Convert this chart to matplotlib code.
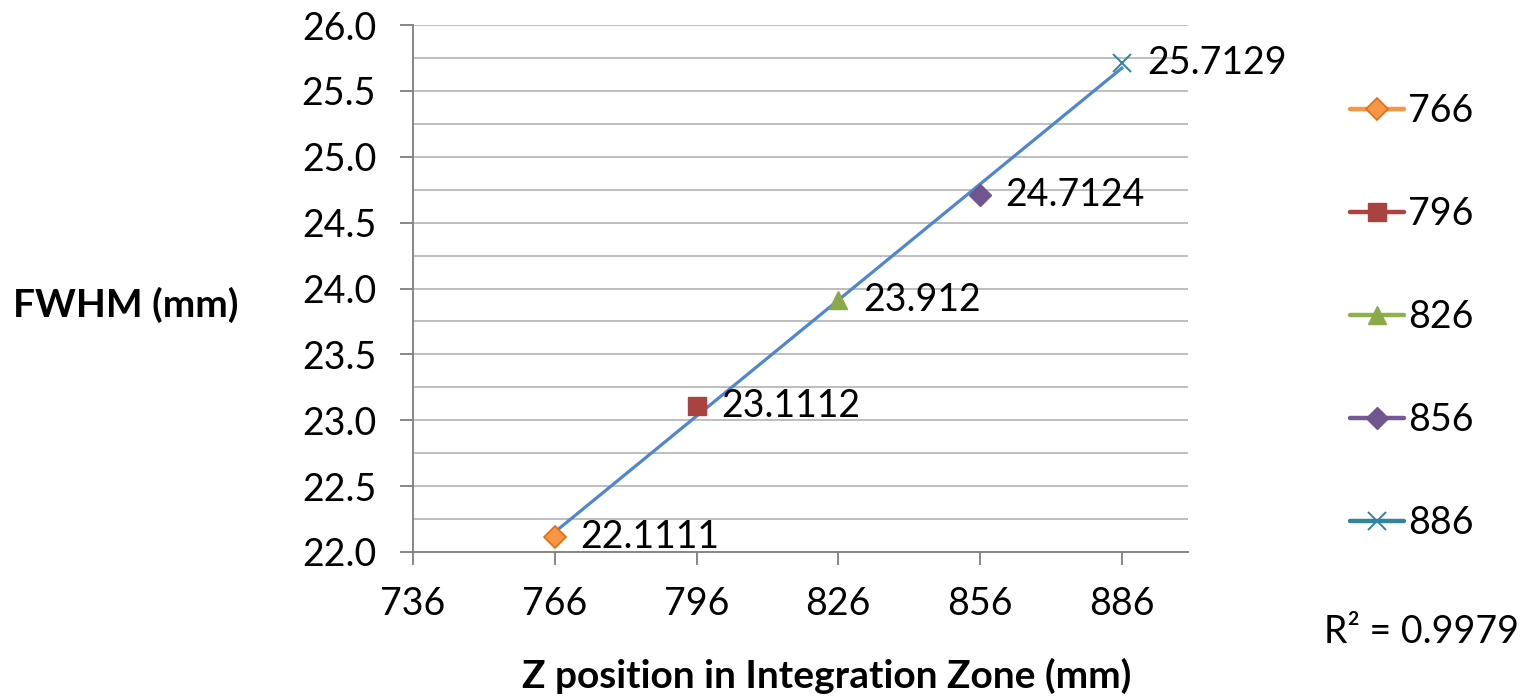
import numpy as np
import matplotlib.pyplot as plt
from matplotlib.lines import Line2D
from matplotlib.ticker import MultipleLocator

# Data
z_positions = [766, 796, 826, 856, 886]
fwhm = [22.1111, 23.1112, 23.912, 24.7124, 25.7129]
series_labels = ["766", "796", "826", "856", "886"]
x_ticks = [736, 766, 796, 826, 856, 886]
y_ticks = [22.0, 22.5, 23.0, 23.5, 24.0, 24.5, 25.0, 25.5, 26.0]

# Marker styling per series
styles = [
    dict(marker="D", mfc="#F79646", mec="#E46C0A", ms=11, line="#F79646", mew=1.2),
    dict(marker="s", mfc="#A9433F", mec="#A9433F", ms=12.5, line="#B0413E", mew=1.0),
    dict(marker="^", mfc="#8AAA4A", mec="#8AAA4A", ms=13, line="#8DB14D", mew=1.0),
    dict(marker="D", mfc="#71558F", mec="#71558F", ms=11, line="#74589A", mew=1.0),
    dict(marker="x", mfc="#31849B", mec="#31849B", ms=12.5, line="#31849B", mew=1.4),
]

plt.rcParams["font.family"] = ["Lato", "DejaVu Sans"]
FS = 27
TITLE_FS = 28

fig = plt.figure(figsize=(15.28, 6.96), dpi=100)
ax = fig.add_axes([413 / 1528, 1 - 552 / 696, (1188 - 413) / 1528, (552 - 25) / 696])

# Linear trendline over the data range
xs = np.array(z_positions, dtype=float)
ys = np.array(fwhm, dtype=float)
slope, intercept = np.polyfit(xs, ys, 1)
fit = slope * xs + intercept
r2 = 1 - np.sum((ys - fit) ** 2) / np.sum((ys - ys.mean()) ** 2)
xline = np.array([xs.min(), xs.max()])
ax.plot(xline, slope * xline + intercept, color="#4F86D0", lw=2.3, zorder=3)

# Points and value labels
handles = []
for x, y, lab, st in zip(z_positions, fwhm, series_labels, styles):
    ax.plot([x], [y], linestyle="none", marker=st["marker"], ms=st["ms"],
            mfc=st["mfc"], mec=st["mec"], mew=st["mew"], zorder=4)
    ax.annotate(f"{y:g}", (x, y), xytext=(18, 0), textcoords="offset points",
                ha="left", va="center", fontsize=FS, color="black", zorder=5)
    handles.append(Line2D([0], [0], color=st["line"], lw=3.2, solid_capstyle="round",
                          marker=st["marker"], ms=st["ms"], mfc=st["mfc"],
                          mec=st["mec"], mew=st["mew"], label=lab))

ax.set_xlim(736, 900)
ax.set_ylim(22.0, 26.0)
ax.set_xticks(x_ticks)
ax.set_yticks(y_ticks)
ax.set_yticklabels([f"{v:.1f}" for v in y_ticks])
ax.yaxis.set_minor_locator(MultipleLocator(0.25))

ax.grid(axis="y", which="both", color="#BEBEBE", lw=1.4)
ax.set_axisbelow(True)
for side in ("top", "right"):
    ax.spines[side].set_visible(False)
for side in ("left", "bottom"):
    ax.spines[side].set_color("#868686")
    ax.spines[side].set_linewidth(1.4)
ax.tick_params(axis="both", which="major", direction="out", length=9.5, width=1.4,
               color="#868686", labelsize=FS, pad=17)
ax.tick_params(axis="x", which="major", pad=15)
ax.tick_params(axis="y", which="minor", length=0)

fig.text(126 / 1528, 1 - 305 / 696, "FWHM (mm)", ha="center", va="center",
         fontsize=TITLE_FS, fontweight="bold")
fig.text(827 / 1528, 1 - 676 / 696, "Z position in Integration Zone (mm)",
         ha="center", va="center", fontsize=TITLE_FS, fontweight="bold")
fig.text(1422 / 1528, 1 - 632 / 696, f"R² = {r2:.4f}", ha="center", va="center",
         fontsize=FS)

fig.legend(handles=handles, loc="center left", bbox_to_anchor=(1350 / 1528, 1 - 317 / 696),
           frameon=False, fontsize=FS, handlelength=1.45, handletextpad=0.1,
           labelspacing=1.79, borderpad=0, borderaxespad=0)

fig.savefig("out.png", dpi=100)
